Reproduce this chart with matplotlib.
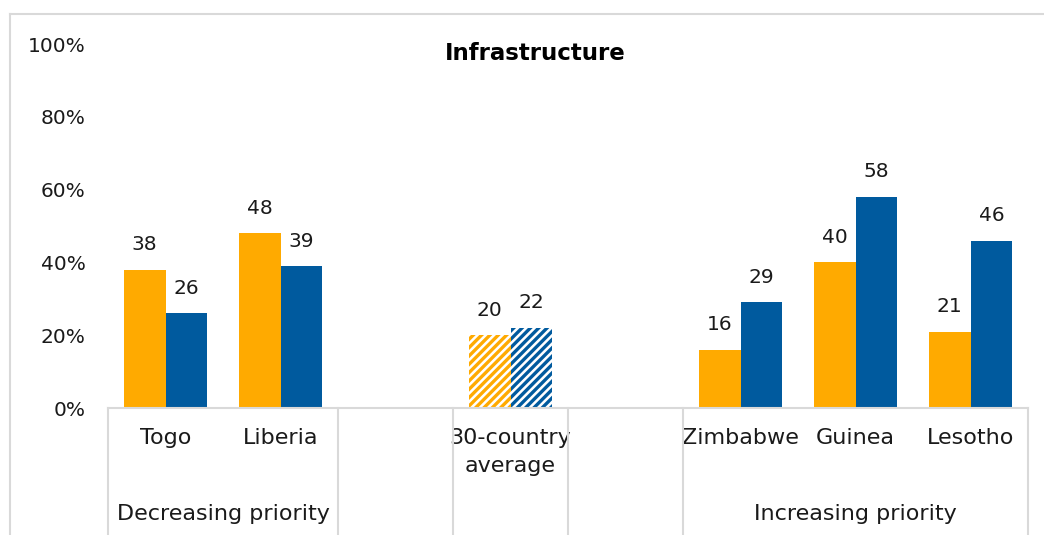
"""Infrastructure priority chart: two series per country, grouped category axis."""

import matplotlib

matplotlib.use("Agg")
import matplotlib.pyplot as plt  # noqa: E402
import matplotlib.transforms as mtransforms  # noqa: E402
from matplotlib.lines import Line2D  # noqa: E402
from matplotlib.ticker import FuncFormatter  # noqa: E402

# slots on the category axis ("" = empty spacer slot)
countries = ["Togo", "Liberia", "", "30-country\naverage", "", "Zimbabwe", "Guinea", "Lesotho"]
series_a = [38, 48, None, 20, None, 16, 40, 21]   # orange
series_b = [26, 39, None, 22, None, 29, 58, 46]   # blue
hatched = [False, False, False, True, False, False, False, False]
groups = [("Decreasing priority", 0, 1), ("Increasing priority", 5, 7)]
group_edges = [-0.5, 1.5, 2.5, 3.5, 4.5, 7.5]
title = "Infrastructure"

ORANGE = "#FFAA00"
BLUE = "#005A9E"
GRID = "#D9D9D9"
TXT = "#1a1a1a"

plt.rcParams["font.family"] = ["DejaVu Sans"]
plt.rcParams["hatch.linewidth"] = 2.4

W, H = 1044, 535
fig = plt.figure(figsize=(W / 100, H / 100), dpi=100)
ax = fig.add_axes([108 / W, 1 - 408 / H, (1028 - 108) / W, (408 - 44) / H])

bw = 0.365
for i, (a, b) in enumerate(zip(series_a, series_b)):
    for val, col, off in ((a, ORANGE, -bw / 2), (b, BLUE, bw / 2)):
        if val is None:
            continue
        if hatched[i]:
            ax.bar(i + off, val / 100, width=bw, color="white", edgecolor=col,
                   hatch="////", linewidth=0)
        else:
            ax.bar(i + off, val / 100, width=bw, color=col, linewidth=0)
        ax.annotate(f"{val}", (i + off, val / 100), xytext=(0, 18),
                    textcoords="offset points", ha="center", va="center",
                    fontsize=14.5, color=TXT)

ax.set_xlim(-0.5, 7.5)
ax.set_ylim(0, 1)
ax.set_yticks([0, 0.2, 0.4, 0.6, 0.8, 1.0])
ax.yaxis.set_major_formatter(FuncFormatter(lambda v, _: f"{v * 100:.0f}%"))
ax.tick_params(axis="y", length=0, pad=16, labelsize=14.5, labelcolor=TXT)
ax.set_xticks([])
for s in ("top", "right", "left"):
    ax.spines[s].set_visible(False)
ax.spines["bottom"].set_color(GRID)
ax.spines["bottom"].set_linewidth(1.5)

fig.text(535 / W, 1 - 54 / H, title, ha="center", va="center",
         fontsize=16.5, fontweight="bold", color="black")

# multi-level category axis
tr = mtransforms.blended_transform_factory(ax.transData, fig.transFigure)
for i, name in enumerate(countries):
    if name:
        ax.text(i, 1 - 428 / H, name, transform=tr, ha="center", va="top",
                fontsize=16, color=TXT, linespacing=1.5)
for label, lo, hi in groups:
    ax.text((lo + hi) / 2, 1 - 514 / H, label, transform=tr, ha="center",
            va="center", fontsize=16, color=TXT)
for x in group_edges:
    fig.add_artist(Line2D([x, x], [1 - 408 / H, 0], transform=tr, color=GRID,
                          lw=1.5, clip_on=False))

# outer chart frame
fig.add_artist(Line2D([10 / W, 1], [1 - 14 / H, 1 - 14 / H], color=GRID, lw=1.5))
fig.add_artist(Line2D([10 / W, 10 / W], [1 - 14 / H, 0], color=GRID, lw=1.5))

fig.savefig("out.png", dpi=100)
